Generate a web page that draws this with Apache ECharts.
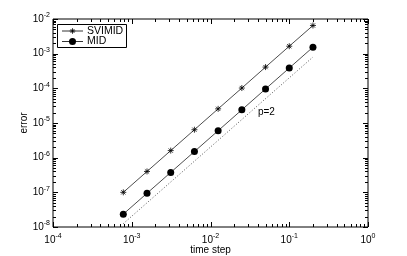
<!DOCTYPE html>
<html><head><meta charset="utf-8">
<script src="https://cdn.jsdelivr.net/npm/echarts@6/dist/echarts.min.js"></script>
<style>html,body{margin:0;padding:0;background:#fff}#c{width:407px;height:256px}</style>
</head><body><div id="c"></div>
<script>
const timeSteps = [0.00078125, 0.0015625, 0.003125, 0.00625, 0.0125, 0.025, 0.05, 0.1, 0.2];
const svimidErr = [1.0e-7, 4.0e-7, 1.6e-6, 6.4e-6, 2.56e-5, 1.02e-4, 4.1e-4, 1.64e-3, 6.5e-3];
const midErr = [2.35e-8, 9.4e-8, 3.76e-7, 1.5e-6, 6.0e-6, 2.4e-5, 9.6e-5, 3.85e-4, 1.54e-3];
const refX = [0.00078125, 0.2];
const refY = [1.25e-8, 8.0e-4];
const refLabel = 'p=2';
const refLabelPos = [0.04, 2.1e-5];
const xTickDecades = [1e-4, 1e-3, 1e-2, 1e-1, 1e0];
const yTickDecades = [1e-8, 1e-7, 1e-6, 1e-5, 1e-4, 1e-3, 1e-2];
const seriesNames = ['SVIMID', 'MID'];

const FONT = 'Liberation Sans';
function expLabel(v) {
  const e = Math.round(Math.log10(v));
  return '{b|10}{e|' + e + '}';
}
const richLab = {
  b: {fontSize: 10, fontFamily: FONT, color: '#000'},
  e: {fontSize: 7, fontFamily: FONT, color: '#000', padding: [0, 0, 7, 0]}
};
function tickList(decades) {
  const out = [];
  for (let i = 0; i < decades.length; i++) {
    out.push([decades[i], 5]);
    if (i < decades.length - 1) {
      for (let m = 2; m <= 9; m++) out.push([decades[i] * m, 3]);
    }
  }
  return out;
}
const xTicks = tickList(xTickDecades).map(t => [t[0], 1e-5, t[1]]);
const yTicks = tickList(yTickDecades).map(t => [1e-2, t[0], t[1]]);

function xTickRender(params, api) {
  const cs = params.coordSys;
  const px = Math.round(api.coord([api.value(0), 1e-5])[0]) + 0.5;
  const L = api.value(2);
  const st = {stroke: '#000', lineWidth: 1};
  return {type: 'group', children: [
    {type: 'line', shape: {x1: px, y1: cs.y + cs.height, x2: px, y2: cs.y + cs.height - L}, style: st},
    {type: 'line', shape: {x1: px, y1: cs.y, x2: px, y2: cs.y + L}, style: st}
  ]};
}
function yTickRender(params, api) {
  const cs = params.coordSys;
  const py = Math.round(api.coord([1e-2, api.value(1)])[1]) + 0.5;
  const L = api.value(2);
  const st = {stroke: '#000', lineWidth: 1};
  return {type: 'group', children: [
    {type: 'line', shape: {x1: cs.x, y1: py, x2: cs.x + L, y2: py}, style: st},
    {type: 'line', shape: {x1: cs.x + cs.width, y1: py, x2: cs.x + cs.width - L, y2: py}, style: st}
  ]};
}

// legend drawn as graphic (box, sample lines, markers, names)
const lx = 57, ly = 24, lw = 69, lh = 23;
const legendStroke = {stroke: '#000', lineWidth: 0.8};
function starShape(cx, cy, r) {
  const d = r * 0.7;
  return [
    {type: 'line', shape: {x1: cx - r, y1: cy, x2: cx + r, y2: cy}, style: legendStroke},
    {type: 'line', shape: {x1: cx, y1: cy - r, x2: cx, y2: cy + r}, style: legendStroke},
    {type: 'line', shape: {x1: cx - d, y1: cy - d, x2: cx + d, y2: cy + d}, style: legendStroke},
    {type: 'line', shape: {x1: cx - d, y1: cy + d, x2: cx + d, y2: cy - d}, style: legendStroke}
  ];
}
const legendChildren = [
  {type: 'rect', shape: {x: lx + 0.5, y: ly + 0.5, width: lw, height: lh}, style: {fill: '#fff', stroke: '#000', lineWidth: 1}},
  {type: 'line', shape: {x1: lx + 5, y1: ly + 7, x2: lx + 26, y2: ly + 7}, style: legendStroke},
  ...starShape(lx + 15.5, ly + 7, 2.8),
  {type: 'text', x: lx + 30, y: ly + 7, style: {text: seriesNames[0], verticalAlign: 'middle', font: '10.5px ' + FONT, fill: '#000'}},
  {type: 'line', shape: {x1: lx + 5, y1: ly + 17.5, x2: lx + 26, y2: ly + 17.5}, style: legendStroke},
  {type: 'circle', shape: {cx: lx + 15.5, cy: ly + 17.5, r: 3.5}, style: {fill: '#000'}},
  {type: 'text', x: lx + 30, y: ly + 17.5, style: {text: seriesNames[1], verticalAlign: 'middle', font: '10.5px ' + FONT, fill: '#000'}}
];

const chart = echarts.init(document.getElementById('c'), null, {renderer: 'canvas'});
const asterisk = 'path://M0,-5L0,5M-5,0L5,0M-3.5,-3.5L3.5,3.5M-3.5,3.5L3.5,-3.5';
chart.setOption({
  animation: false,
  backgroundColor: '#fff',
  textStyle: {fontFamily: FONT},
  grid: {left: 53, right: 39, top: 19, bottom: 29, show: true, borderColor: '#000', borderWidth: 1, backgroundColor: 'transparent', containLabel: false, outerBoundsMode: 'none'},
  graphic: legendChildren.map(c => Object.assign({z: 100}, c)),
  xAxis: {
    type: 'log', logBase: 10, min: 1e-4, max: 1,
    name: 'time step', nameLocation: 'middle', nameGap: 18, nameMoveOverlap: false,
    nameTextStyle: {fontSize: 10, fontFamily: FONT, color: '#000'},
    axisLine: {show: false}, axisTick: {show: false}, splitLine: {show: false},
    axisLabel: {margin: 6, formatter: expLabel, rich: richLab}
  },
  yAxis: {
    type: 'log', logBase: 10, min: 1e-8, max: 1e-2,
    name: 'error', nameLocation: 'middle', nameGap: 24, nameMoveOverlap: false,
    nameTextStyle: {fontSize: 10, fontFamily: FONT, color: '#000'},
    axisLine: {show: false}, axisTick: {show: false}, splitLine: {show: false},
    axisLabel: {margin: 3, formatter: expLabel, rich: richLab}
  },
  series: [
    {type: 'custom', renderItem: xTickRender, data: xTicks, silent: true, z: 1},
    {type: 'custom', renderItem: yTickRender, data: yTicks, silent: true, z: 1},
    {
      name: 'ref', type: 'line', data: refX.map((x, i) => [x, refY[i]]),
      symbol: 'none', lineStyle: {color: '#555', width: 1, type: [1, 2]}, silent: true,
      markPoint: {
        symbol: 'circle', symbolSize: 0,
        data: [{coord: refLabelPos, value: refLabel}],
        label: {show: true, formatter: refLabel, position: 'right', distance: 0, fontSize: 10, fontFamily: FONT, color: '#000'}
      }
    },
    {
      name: seriesNames[0], type: 'line', data: timeSteps.map((x, i) => [x, svimidErr[i]]),
      symbol: asterisk, symbolSize: 6, showAllSymbol: true,
      lineStyle: {color: '#000', width: 0.7},
      itemStyle: {color: 'none', borderColor: '#000', borderWidth: 0.8}
    },
    {
      name: seriesNames[1], type: 'line', data: timeSteps.map((x, i) => [x, midErr[i]]),
      symbol: 'circle', symbolSize: 7, showAllSymbol: true,
      lineStyle: {color: '#000', width: 0.7},
      itemStyle: {color: '#000'}
    }
  ]
});
</script></body></html>
